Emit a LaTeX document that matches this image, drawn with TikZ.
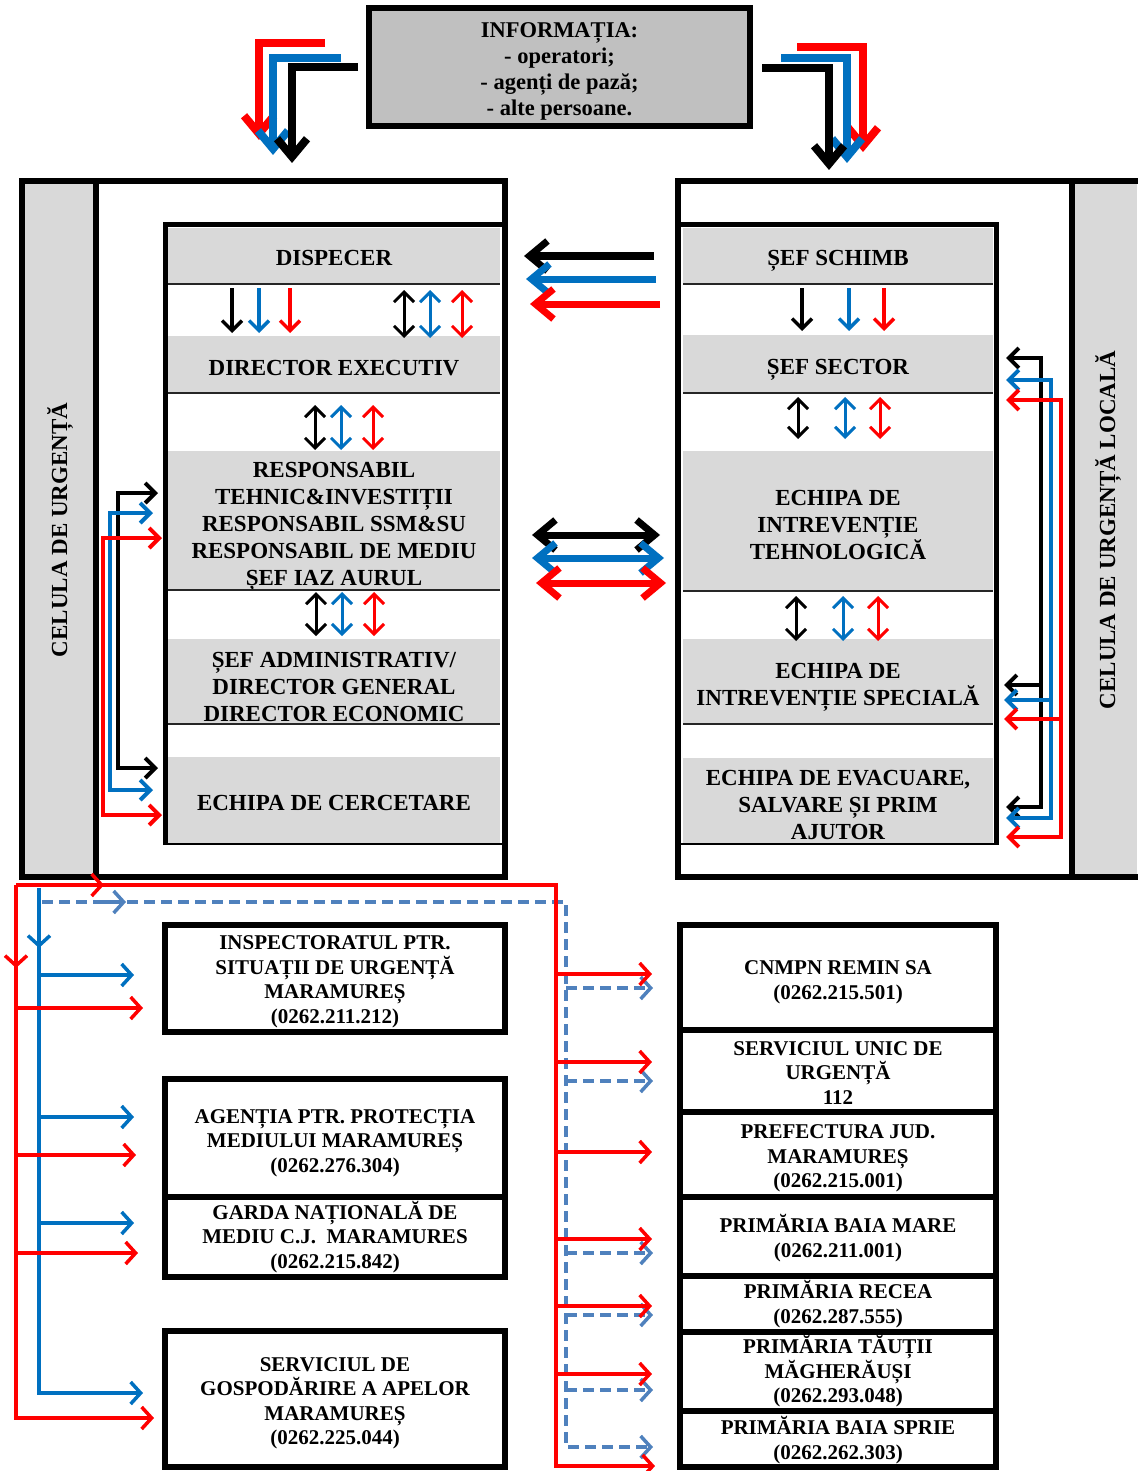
\documentclass[tikz,border=0pt]{standalone}
\usepackage{fontspec}
\setmainfont{Liberation Serif}
\usetikzlibrary{arrows.meta}
\definecolor{myred}{HTML}{FF0000}
\definecolor{myblue}{HTML}{0070C0}
\definecolor{dblue}{HTML}{4F81BD}
\definecolor{bandgray}{HTML}{D9D9D9}
\definecolor{topgray}{HTML}{C0C0C0}
\newcommand\bandfont{\fontsize{23}{27}\selectfont\bfseries}
\newcommand\boxfont{\fontsize{21}{24.5}\selectfont\bfseries}
\newcommand\topfont{\fontsize{22.5}{26}\selectfont\bfseries}
\begin{document}
\begin{tikzpicture}[x=1pt,y=-1pt,
  band/.style={fill=bandgray, draw=none, inner sep=0pt, outer sep=0pt},
  lband/.style={band, minimum width=332pt},
  rband/.style={band, minimum width=310pt},
  btxt/.style={inner sep=0pt, align=center, font=\bandfont},
  xtxt/.style={inner sep=0pt, align=center, font=\boxfont},
  divline/.style={line width=2pt, black!85},
  framel/.style={line width=6pt},
  obox/.style={draw, line width=6pt, inner sep=0pt, outer sep=0pt},
  lbox/.style={obox, minimum width=340pt},
  rbox/.style={obox, minimum width=316pt},
  smallarr/.style={line width=3.5pt, -{Straight Barb[length=10pt,width=20pt]}},
  smalldbl/.style={line width=3pt, {Straight Barb[length=10pt,width=20pt]}-{Straight Barb[length=10pt,width=20pt]}},
  bigarr/.style={line width=7pt, -{Straight Barb[length=18pt,width=30pt]}},
  bigdbl/.style={line width=7pt, {Straight Barb[length=18pt,width=30pt]}-{Straight Barb[length=18pt,width=30pt]}},
  toparr/.style={line width=8pt, -{Straight Barb[length=18pt,width=30pt]}},
  fbarr/.style={line width=4pt, {Straight Barb[length=10pt,width=20pt]}-{Straight Barb[length=10pt,width=20pt]}},
  fbone/.style={line width=4pt, -{Straight Barb[length=10pt,width=20pt]}},
  botarr/.style={line width=3.5pt, -{Straight Barb[length=10pt,width=22pt]}},
  dasharr/.style={botarr, dash pattern=on 11pt off 6pt},
]
\useasboundingbox (0,0) rectangle (1137,1471);
\fill[white] (0,0) rectangle (1137,1471);

% ---------- top box ----------
\node[draw, line width=6pt, fill=topgray, minimum width=381pt, minimum height=118pt, inner sep=0pt] (info) at (559.5,67) {};
\node[inner sep=0pt, align=center, font=\topfont] (info-t) at ([yshift=-4.5pt]info.center)
 {INFORMAȚIA:\\- operatori;\\- agenți de pază;\\- alte persoane.};

\draw[toparr, myred] (325,43) -- (259,43) -- (259,140);
\draw[toparr, myblue] (341,58) -- (273,58) -- (273,155);
\draw[toparr, black] (358,67) -- (292,67) -- (292,163);
\draw[toparr, myred] (797,47) -- (863,47) -- (863,152);
\draw[toparr, myblue] (781,58) -- (847,58) -- (847,163);
\draw[toparr, black] (762,68) -- (829,68) -- (829,170);

% ---------- left panel ----------
\fill[bandgray] (25,184) rectangle (94,874);
\node[lband, minimum height=56pt] (disp) at (334,256) {};
\node[lband, minimum height=57pt] (dirx) at (334,364.5) {};
\node[lband, minimum height=140pt] (resp) at (334,521) {};
\node[lband, minimum height=86pt] (sefadm) at (334,682) {};
\node[lband, minimum height=86pt] (cerc) at (334,800) {};
\node[btxt] (disp-t) at ([yshift=-2pt]disp.center) {DISPECER};
\node[btxt] (dirx-t) at ([yshift=-4pt]dirx.center) {DIRECTOR EXECUTIV};
\node[btxt] (resp-t) at ([yshift=-6pt]resp.center) {RESPONSABIL\\TEHNIC\&INVESTIȚII\\RESPONSABIL SSM\&SU\\RESPONSABIL DE MEDIU\\ȘEF IAZ AURUL};
\node[btxt] (sefadm-t) at ([yshift=-4.5pt]sefadm.center) {ȘEF ADMINISTRATIV/\\DIRECTOR GENERAL\\DIRECTOR ECONOMIC};
\node[btxt] (cerc-t) at ([yshift=-3pt]cerc.center) {ECHIPA DE CERCETARE};
\draw[divline] (168,284) -- (500,284);
\draw[divline] (168,393) -- (500,393);
\draw[divline] (168,590) -- (500,590);
\draw[divline] (168,724) -- (500,724);
\draw[framel] (22,181) rectangle (505,877);
\draw[framel] (96,181) -- (96,877);
\draw[line width=5pt] (165,845) -- (165,225) -- (505,225);
\draw[line width=2.5pt] (165,844) -- (502,844);
\node[rotate=90, font=\bandfont] (lcel) at (60,530) {CELULA DE URGENȚĂ};

\draw[smallarr, black] (232,288) -- (232,333);
\draw[smallarr, myblue] (259,288) -- (259,333);
\draw[smallarr, myred] (290,288) -- (290,333);
\draw[smalldbl, black] (404,290) -- (404,338);
\draw[smalldbl, myblue] (430,290) -- (430,338);
\draw[smalldbl, myred] (462,290) -- (462,338);
\draw[smalldbl, black] (315,405) -- (315,450);
\draw[smalldbl, myblue] (341,405) -- (341,450);
\draw[smalldbl, myred] (373,405) -- (373,450);
\draw[smalldbl, black] (316,592) -- (316,636);
\draw[smalldbl, myblue] (342,592) -- (342,636);
\draw[smalldbl, myred] (374,592) -- (374,636);

\draw[fbarr, black] (158,493) -- (118,493) -- (118,768) -- (158,768);
\draw[fbarr, myblue] (153,513) -- (110,513) -- (110,790) -- (153,790);
\draw[fbarr, myred] (162,538) -- (103,538) -- (103,815) -- (162,815);

% ---------- right panel ----------
\fill[bandgray] (1075,184) rectangle (1137,874);
\node[rband, minimum height=55pt] (sch) at (838,255.5) {};
\node[rband, minimum height=58pt] (sect) at (838,364) {};
\node[rband, minimum height=140pt] (tehn) at (838,521) {};
\node[rband, minimum height=86pt] (spec) at (838,682) {};
\node[rband, minimum height=86pt] (evac) at (838,801) {};
\node[btxt] (sch-t) at ([yshift=-5pt]sch.center) {ȘEF SCHIMB};
\node[btxt] (sect-t) at ([yshift=-6pt]sect.center) {ȘEF SECTOR};
\node[btxt] (tehn-t) at ([yshift=-3.5pt]tehn.center) {ECHIPA DE\\INTREVENȚIE\\TEHNOLOGICĂ};
\node[btxt] (spec-t) at ([yshift=-5pt]spec.center) {ECHIPA DE\\INTREVENȚIE SPECIALĂ};
\node[btxt] (evac-t) at ([yshift=-3.5pt]evac.center) {ECHIPA DE EVACUARE,\\SALVARE ȘI PRIM\\AJUTOR};
\draw[divline] (683,284) -- (993,284);
\draw[divline] (683,393) -- (993,393);
\draw[divline] (683,591) -- (993,591);
\draw[divline] (683,724) -- (993,724);
\draw[framel] (1145,181) -- (678,181) -- (678,877) -- (1145,877);
\draw[framel] (1072,181) -- (1072,877);
\draw[line width=5pt] (678,225) -- (996,225) -- (996,845);
\draw[line width=2.5pt] (680,844) -- (996,844);
\node[rotate=90, font=\bandfont] (rcel) at (1108,530) {CELULA DE URGENȚĂ LOCALĂ};

\draw[smallarr, black] (802,288) -- (802,331);
\draw[smallarr, myblue] (849,288) -- (849,331);
\draw[smallarr, myred] (884,288) -- (884,331);
\draw[smalldbl, black] (798,397) -- (798,439);
\draw[smalldbl, myblue] (845,397) -- (845,439);
\draw[smalldbl, myred] (880,397) -- (880,439);
\draw[smalldbl, black] (796,596) -- (796,641);
\draw[smalldbl, myblue] (843,596) -- (843,641);
\draw[smalldbl, myred] (878,596) -- (878,641);

\draw[fbarr, black] (1006,358) -- (1041,358) -- (1041,807) -- (1006,807);
\draw[fbone, black] (1041,685) -- (1004,685);
\draw[fbarr, myblue] (1006,380) -- (1051,380) -- (1051,818) -- (1006,818);
\draw[fbone, myblue] (1051,700) -- (1004,700);
\draw[fbarr, myred] (1006,400) -- (1061,400) -- (1061,837) -- (1006,837);
\draw[fbone, myred] (1061,719) -- (1004,719);

% ---------- between panels ----------
\draw[bigarr, black] (654,256) -- (524,256);
\draw[bigarr, myblue] (656,279) -- (526,279);
\draw[bigarr, myred] (660,304) -- (530,304);
\draw[bigdbl, black] (532,535) -- (660,535);
\draw[bigdbl, myblue] (532,558) -- (664,558);
\draw[bigdbl, myred] (536,583) -- (666,583);

% ---------- bottom boxes ----------
\node[lbox, minimum height=107pt] (insp) at (335,978.5) {};
\node[lbox, minimum height=118pt] (apm) at (335,1138) {};
\node[lbox, minimum height=80pt] (gnm) at (335,1237) {};
\node[lbox, minimum height=136pt] (sga) at (335,1399) {};
\node[xtxt] (insp-t) at ([yshift=-3.5pt]insp.center) {INSPECTORATUL PTR.\\SITUAȚII DE URGENȚĂ\\MARAMUREȘ\\(0262.211.212)};
\node[xtxt] (apm-t) at ([yshift=-5pt]apm.center) {AGENȚIA PTR. PROTECȚIA\\MEDIULUI MARAMUREȘ\\(0262.276.304)};
\node[xtxt] (gnm-t) at (gnm.center) {GARDA NAȚIONALĂ DE\\MEDIU C.J.\ \ MARAMURES\\(0262.215.842)};
\node[xtxt] (sga-t) at ([yshift=-4.5pt]sga.center) {SERVICIUL DE\\GOSPODĂRIRE A APELOR\\MARAMUREȘ\\(0262.225.044)};

\node[rbox, minimum height=105pt] (remin) at (838,977.5) {};
\node[rbox, minimum height=82pt] (suu) at (838,1071) {};
\node[rbox, minimum height=85pt] (pref) at (838,1154.5) {};
\node[rbox, minimum height=79pt] (pbm) at (838,1236.5) {};
\node[rbox, minimum height=56pt] (prec) at (838,1304) {};
\node[rbox, minimum height=79pt] (ptm) at (838,1371.5) {};
\node[rbox, minimum height=56pt] (pbs) at (838,1439) {};
\node[xtxt] (remin-t) at ([yshift=-5pt]remin.center) {CNMPN REMIN SA\\(0262.215.501)};
\node[xtxt] (suu-t) at ([yshift=-2pt]suu.center) {SERVICIUL UNIC DE\\URGENȚĂ\\112};
\node[xtxt] (pref-t) at ([yshift=-4pt]pref.center) {PREFECTURA JUD.\\MARAMUREȘ\\(0262.215.001)};
\node[xtxt] (pbm-t) at ([yshift=-1.5pt]pbm.center) {PRIMĂRIA BAIA MARE\\(0262.211.001)};
\node[xtxt] (prec-t) at (prec.center) {PRIMĂRIA RECEA\\(0262.287.555)};
\node[xtxt] (ptm-t) at (ptm.center) {PRIMĂRIA TĂUȚII\\MĂGHERĂUȘI\\(0262.293.048)};
\node[xtxt] (pbs-t) at ([yshift=-1pt]pbs.center) {PRIMĂRIA BAIA SPRIE\\(0262.262.303)};

% ---------- bottom connectors ----------
\draw[dasharr, dblue] (42,902) -- (566,902) -- (566,1447) -- (653,1447);
\draw[botarr, dblue] (98,902) -- (126,902);
\foreach \yy in {988,1081,1253,1315,1390}
  \draw[dasharr, dblue] (566,\yy) -- (653,\yy);

\draw[botarr, myblue] (39,888) -- (39,1393) -- (143,1393);
\draw[botarr, myblue] (39,915) -- (39,948);
\foreach \yy in {975,1117,1223}
  \draw[botarr, myblue] (39,\yy) -- (134,\yy);

\draw[botarr, myred] (16,885) -- (16,1418) -- (154,1418);
\draw[botarr, myred] (16,885) -- (556,885) -- (556,1466) -- (655,1466);
\draw[botarr, myred] (60,885) -- (104,885);
\draw[botarr, myred] (16,925) -- (16,968);
\draw[botarr, myred] (16,1008) -- (143,1008);
\draw[botarr, myred] (16,1155) -- (136,1155);
\draw[botarr, myred] (16,1253) -- (138,1253);
\foreach \yy in {974,1062,1152,1239,1306,1374}
  \draw[botarr, myred] (556,\yy) -- (652,\yy);
\end{tikzpicture}
\end{document}
